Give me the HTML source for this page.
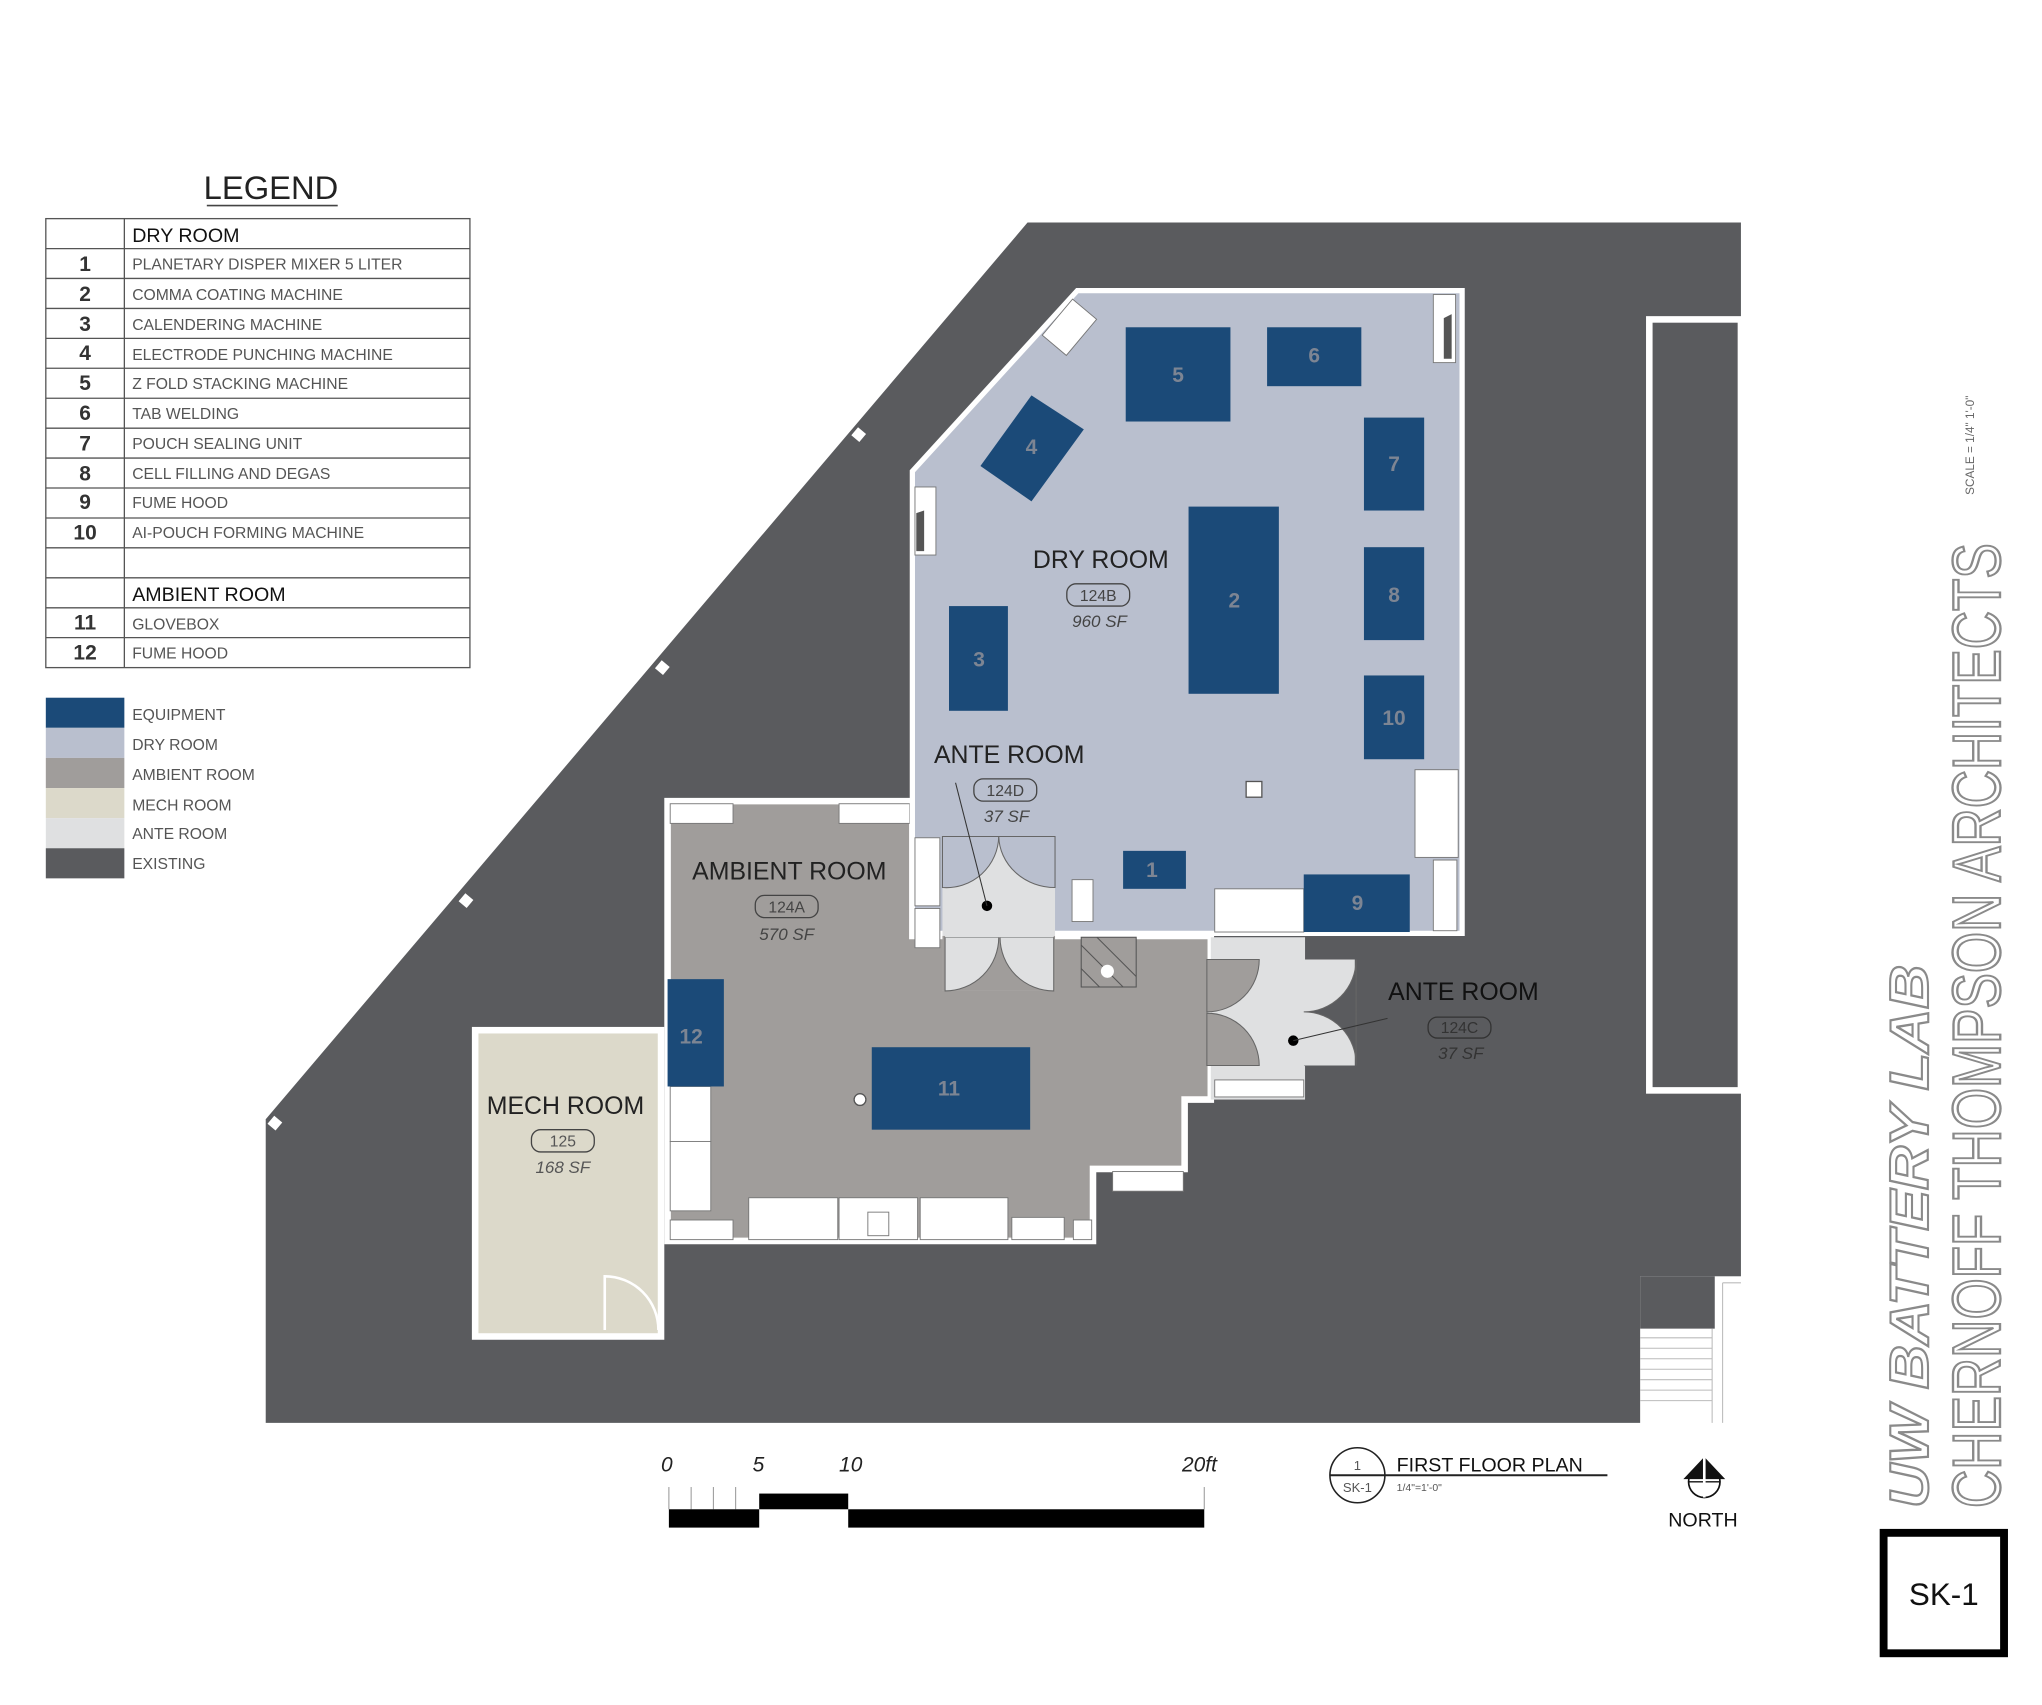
<!DOCTYPE html>
<html><head><meta charset="utf-8"><style>
html,body{margin:0;padding:0;background:#fff;}
svg{display:block;}
text{font-family:"Liberation Sans",sans-serif;}
</style></head><body>
<svg width="2042" height="1705" viewBox="0 0 1560 1302.5" xmlns="http://www.w3.org/2000/svg">
<rect x="0" y="0" width="1560" height="1302.5" fill="#fff"/>
<!-- LEGEND -->
<text x="207" y="152" font-size="25" text-anchor="middle" fill="#222">LEGEND</text>
<line x1="158" y1="157" x2="258" y2="157" stroke="#444" stroke-width="1.2"/>
<g stroke="#555" stroke-width="1" fill="none">
<rect x="35" y="167" width="324" height="343"/>
<line x1="95" y1="167" x2="95" y2="510"/>
<line x1="35" y1="189.9" x2="359" y2="189.9"/><line x1="35" y1="212.7" x2="359" y2="212.7"/>
<line x1="35" y1="235.6" x2="359" y2="235.6"/><line x1="35" y1="258.5" x2="359" y2="258.5"/>
<line x1="35" y1="281.3" x2="359" y2="281.3"/><line x1="35" y1="304.2" x2="359" y2="304.2"/>
<line x1="35" y1="327.1" x2="359" y2="327.1"/><line x1="35" y1="349.9" x2="359" y2="349.9"/>
<line x1="35" y1="372.8" x2="359" y2="372.8"/><line x1="35" y1="395.7" x2="359" y2="395.7"/>
<line x1="35" y1="418.5" x2="359" y2="418.5"/><line x1="35" y1="441.4" x2="359" y2="441.4"/>
<line x1="35" y1="464.3" x2="359" y2="464.3"/><line x1="35" y1="487.1" x2="359" y2="487.1"/>
</g>
<g font-size="15" fill="#111"><text x="101" y="185">DRY ROOM</text><text x="101" y="459">AMBIENT ROOM</text></g>
<g font-size="16" font-weight="bold" fill="#333" text-anchor="middle">
<text x="65" y="207">1</text><text x="65" y="230">2</text><text x="65" y="253">3</text><text x="65" y="275">4</text>
<text x="65" y="298">5</text><text x="65" y="321">6</text><text x="65" y="344">7</text><text x="65" y="367">8</text>
<text x="65" y="389">9</text><text x="65" y="412">10</text><text x="65" y="481">11</text><text x="65" y="504">12</text>
</g>
<g font-size="12" fill="#555">
<text x="101" y="206">PLANETARY DISPER MIXER 5 LITER</text><text x="101" y="229">COMMA COATING MACHINE</text>
<text x="101" y="252">CALENDERING MACHINE</text><text x="101" y="275">ELECTRODE PUNCHING MACHINE</text>
<text x="101" y="297">Z FOLD STACKING MACHINE</text><text x="101" y="320">TAB WELDING</text>
<text x="101" y="343">POUCH SEALING UNIT</text><text x="101" y="366">CELL FILLING AND DEGAS</text>
<text x="101" y="388">FUME HOOD</text><text x="101" y="411">AI-POUCH FORMING MACHINE</text>
<text x="101" y="481">GLOVEBOX</text><text x="101" y="503">FUME HOOD</text>
</g>
<rect x="35" y="533" width="60" height="23" fill="#1b4a78"/>
<rect x="35" y="556" width="60" height="23" fill="#b9bfce"/>
<rect x="35" y="579" width="60" height="23" fill="#a09d9b"/>
<rect x="35" y="602" width="60" height="23" fill="#dcd9ca"/>
<rect x="35" y="625" width="60" height="23" fill="#dfe0e1"/>
<rect x="35" y="648" width="60" height="23" fill="#5a5b5e"/>
<g font-size="12" fill="#555">
<text x="101" y="550">EQUIPMENT</text><text x="101" y="573">DRY ROOM</text><text x="101" y="596">AMBIENT ROOM</text>
<text x="101" y="619">MECH ROOM</text><text x="101" y="641">ANTE ROOM</text><text x="101" y="664">EXISTING</text>
</g>

<!-- EXISTING -->
<polygon points="203,855 785,170 1330,170 1330,1087 203,1087" fill="#5a5b5e"/>
<line x1="203" y1="848" x2="780" y2="170" stroke="#fff" stroke-width="3"/>
<g fill="#fff"><rect x="652" y="328" width="8" height="8" transform="rotate(40 656 332)"/>
<rect x="502" y="506" width="8" height="8" transform="rotate(40 506 510)"/>
<rect x="352" y="684" width="8" height="8" transform="rotate(40 356 688)"/>
<rect x="206" y="854" width="8" height="8" transform="rotate(40 210 858)"/></g>
<rect x="1260" y="244" width="70" height="589" fill="none" stroke="#fff" stroke-width="5"/>
<rect x="1253" y="975" width="80" height="115" fill="#fff"/>
<rect x="1253" y="975" width="57" height="40" fill="#5a5b5e"/>
<g stroke="#bbb" stroke-width="0.8"><line x1="1253" y1="1022" x2="1308" y2="1022"/><line x1="1253" y1="1030" x2="1308" y2="1030"/><line x1="1253" y1="1038" x2="1308" y2="1038"/><line x1="1253" y1="1046" x2="1308" y2="1046"/><line x1="1253" y1="1054" x2="1308" y2="1054"/><line x1="1253" y1="1062" x2="1308" y2="1062"/><line x1="1253" y1="1070" x2="1308" y2="1070"/><line x1="1308" y1="1015" x2="1308" y2="1087"/><line x1="1316" y1="980" x2="1316" y2="1087"/><line x1="1316" y1="980" x2="1330" y2="980"/></g>

<!-- MECH ROOM -->
<rect x="363" y="787" width="142" height="234" fill="#dcd9ca" stroke="#fff" stroke-width="5"/>
<path d="M462,1016 L462,975 A41,41 0 0 1 503,1016" fill="none" stroke="#fff" stroke-width="2"/>
<text x="432" y="851" font-size="19" text-anchor="middle" fill="#222">MECH ROOM</text>
<rect x="406" y="863" width="48" height="17" rx="7" fill="none" stroke="#444" stroke-width="1"/>
<text x="430" y="876" font-size="12" text-anchor="middle" fill="#555">125</text>
<text x="430" y="896" font-size="13" text-anchor="middle" fill="#555" font-style="italic">168 SF</text>

<!-- AMBIENT ROOM -->
<polygon points="510,612 697,612 697,715 925,715 925,840 905,840 905,893 835,893 835,948 510,948" fill="#a09d9b" stroke="#fff" stroke-width="5"/>
<g fill="#fff" stroke="#777" stroke-width="0.7">
<rect x="512" y="614" width="48" height="15"/><rect x="641" y="614" width="54" height="15"/>
<rect x="512" y="830" width="31" height="42"/><rect x="512" y="872" width="31" height="53"/>
<rect x="572" y="915" width="68" height="32"/><rect x="641" y="915" width="60" height="32"/>
<rect x="703" y="915" width="67" height="32"/><rect x="773" y="930" width="40" height="17"/>
<rect x="512" y="932" width="48" height="15"/><rect x="850" y="895" width="54" height="15"/>
<rect x="820" y="932" width="14" height="15"/><rect x="663" y="926" width="16" height="18"/>
</g>
<text x="603" y="672" font-size="19" text-anchor="middle" fill="#222">AMBIENT ROOM</text>
<rect x="577" y="684" width="48" height="17" rx="7" fill="none" stroke="#444" stroke-width="1"/>
<text x="601" y="697" font-size="12" text-anchor="middle" fill="#444">124A</text>
<text x="601" y="718" font-size="13" text-anchor="middle" fill="#444" font-style="italic">570 SF</text>
<circle cx="657" cy="840" r="4.5" fill="#fff" stroke="#555"/>
<rect x="826" y="716" width="42" height="38" fill="#a09d9b" stroke="#555" stroke-width="0.8"/>
<g stroke="#555" stroke-width="0.8"><line x1="826" y1="722" x2="858" y2="754"/><line x1="838" y1="716" x2="868" y2="746"/><line x1="826" y1="740" x2="840" y2="754"/></g>
<circle cx="846" cy="742" r="5" fill="#fff"/>

<!-- DRY ROOM -->
<polygon points="823,222 1117,222 1117,713 697,713 697,360" fill="#b9bfce" stroke="#fff" stroke-width="4"/>
<g fill="#fff" stroke="#777" stroke-width="0.7">
<rect x="1081" y="588" width="33" height="67"/><rect x="928" y="679" width="68" height="33"/>
<rect x="1095" y="657" width="18" height="54"/><rect x="1095" y="225" width="17" height="52"/>
<rect x="699" y="372" width="16" height="52"/>
<rect x="805" y="232" width="24" height="36" transform="rotate(40 817 250)"/>
<rect x="699" y="640" width="19" height="52"/><rect x="699" y="694" width="19" height="30"/>
<rect x="819" y="672" width="16" height="32"/>
</g>
<g fill="#555"><polygon points="1103,243 1109,240 1109,274 1103,274"/><polygon points="700,392 706,390 706,421 700,421"/></g>
<rect x="952" y="597" width="12" height="12" fill="#fff" stroke="#555"/>

<!-- Ante 124D -->
<rect x="720" y="639" width="86" height="118" fill="#dfe0e1"/>
<rect x="720" y="715" width="86" height="42" fill="#a09d9b"/>
<path d="M720,639 L720,678 A40,40 0 0 0 763,639 Z" fill="#b9bfce" stroke="#666" stroke-width="0.8"/>
<path d="M806,639 L763,639 A43,40 0 0 0 806,678 Z" fill="#b9bfce" stroke="#666" stroke-width="0.8"/>
<path d="M722,716 L763,716 A41,41 0 0 1 722,757 Z" fill="#dfe0e1" stroke="#666" stroke-width="0.8"/>
<path d="M805,716 L764,716 A41,41 0 0 0 805,757 Z" fill="#dfe0e1" stroke="#666" stroke-width="0.8"/>
<rect x="722" y="700" width="83" height="16" fill="#dfe0e1"/>
<circle cx="754" cy="692" r="4" fill="#000"/>
<line x1="754" y1="692" x2="730" y2="598" stroke="#333" stroke-width="0.8"/>

<!-- Ante 124C -->
<rect x="925" y="716" width="72" height="124" fill="#dfe0e1"/>
<rect x="925" y="733" width="110" height="81" fill="#dfe0e1"/>
<path d="M922,733 L962,733 A40,40 0 0 1 922,773 Z" fill="#a09d9b" stroke="#666" stroke-width="0.8"/>
<path d="M922,814 L962,814 A40,40 0 0 0 922,774 Z" fill="#a09d9b" stroke="#666" stroke-width="0.8"/>
<path d="M1036,733 L1036,814 L996,814 A40,40 0 0 0 1036,814 L1036,733 Z" fill="#5a5b5e"/>
<path d="M1036,733 A40,40 0 0 1 996,773 A40,40 0 0 1 1036,814 Z" fill="#5a5b5e" stroke="#666" stroke-width="0.8"/>
<rect x="928" y="825" width="68" height="13" fill="#fff" stroke="#777" stroke-width="0.7"/>
<circle cx="988" cy="795" r="4" fill="#000"/>
<line x1="988" y1="795" x2="1060" y2="778" stroke="#333" stroke-width="0.8"/>

<!-- EQUIPMENT -->
<g fill="#1b4a78">
<rect x="860" y="250" width="80" height="72"/><rect x="968" y="250" width="72" height="45"/>
<polygon points="788,302 828,328 788,383 749,356"/>
<rect x="1042" y="319" width="46" height="71"/><rect x="1042" y="418" width="46" height="71"/>
<rect x="1042" y="516" width="46" height="64"/><rect x="908" y="387" width="69" height="143"/>
<rect x="725" y="463" width="45" height="80"/><rect x="858" y="650" width="48" height="29"/>
<rect x="996" y="668" width="81" height="44"/><rect x="510" y="748" width="43" height="82"/>
<rect x="666" y="800" width="121" height="63"/>
</g>
<g font-size="16" font-weight="bold" fill="#7d8593" text-anchor="middle">
<text x="900" y="292">5</text><text x="1004" y="277">6</text><text x="788" y="347">4</text>
<text x="1065" y="360">7</text><text x="1065" y="460">8</text><text x="1065" y="554">10</text>
<text x="943" y="464">2</text><text x="748" y="509">3</text><text x="880" y="670">1</text>
<text x="1037" y="695">9</text><text x="528" y="797">12</text><text x="725" y="837">11</text>
</g>
<text x="841" y="434" font-size="19" text-anchor="middle" fill="#222">DRY ROOM</text>
<rect x="815" y="446" width="48" height="17" rx="7" fill="none" stroke="#444" stroke-width="1"/>
<text x="839" y="459" font-size="12" text-anchor="middle" fill="#444">124B</text>
<text x="840" y="479" font-size="13" text-anchor="middle" fill="#444" font-style="italic">960 SF</text>
<text x="771" y="583" font-size="19" text-anchor="middle" fill="#222">ANTE ROOM</text>
<rect x="744" y="595" width="48" height="17" rx="7" fill="none" stroke="#444" stroke-width="1"/>
<text x="768" y="608" font-size="12" text-anchor="middle" fill="#444">124D</text>
<text x="769" y="628" font-size="13" text-anchor="middle" fill="#444" font-style="italic">37 SF</text>
<text x="1118" y="764" font-size="19" text-anchor="middle" fill="#111">ANTE ROOM</text>
<rect x="1091" y="777" width="48" height="16" rx="7" fill="none" stroke="#333" stroke-width="1"/>
<text x="1115" y="789" font-size="12" text-anchor="middle" fill="#333">124C</text>
<text x="1116" y="809" font-size="13" text-anchor="middle" fill="#333" font-style="italic">37 SF</text>

<!-- SCALE BAR -->
<g font-size="16" fill="#222" font-style="italic"><text x="505" y="1124">0</text><text x="575" y="1124">5</text><text x="641" y="1124">10</text><text x="903" y="1124">20ft</text></g>
<g stroke="#999" stroke-width="0.8"><line x1="511" y1="1136" x2="511" y2="1153"/><line x1="528" y1="1136" x2="528" y2="1153"/><line x1="545" y1="1136" x2="545" y2="1153"/><line x1="562" y1="1136" x2="562" y2="1153"/><line x1="920" y1="1136" x2="920" y2="1153"/></g>
<rect x="511" y="1153" width="69" height="14" fill="#000"/>
<rect x="580" y="1141" width="68" height="12" fill="#000"/>
<rect x="648" y="1153" width="272" height="14" fill="#000"/>
<!-- title mark -->
<circle cx="1037" cy="1127" r="21" fill="none" stroke="#222" stroke-width="1.2"/>
<line x1="1016" y1="1127" x2="1228" y2="1127" stroke="#222" stroke-width="1.5"/>
<text x="1037" y="1123" font-size="10" text-anchor="middle" fill="#555">1</text>
<text x="1037" y="1140" font-size="10" text-anchor="middle" fill="#555">SK-1</text>
<text x="1067" y="1124" font-size="15" fill="#111">FIRST FLOOR PLAN</text>
<text x="1067" y="1139" font-size="8" fill="#555">1/4"=1'-0"</text>
<circle cx="1302" cy="1132" r="12" fill="none" stroke="#111" stroke-width="1.3"/>
<line x1="1290" y1="1132" x2="1314" y2="1132" stroke="#111"/>
<polygon points="1302,1113 1286,1130 1318,1130" fill="#111"/>
<line x1="1302" y1="1113" x2="1302" y2="1144" stroke="#fff" stroke-width="2"/>
<text x="1301" y="1166" font-size="15" text-anchor="middle" fill="#111">NORTH</text>

<!-- RIGHT TITLE BLOCK -->
<text transform="translate(1508,378) rotate(-90)" font-size="9" fill="#666">SCALE = 1/4" 1'-0"</text>
<text transform="translate(1473,1152) rotate(-90)" font-size="42" font-style="italic" font-weight="bold" fill="#fff" stroke="#8a8a8a" stroke-width="1.6" textLength="415" lengthAdjust="spacingAndGlyphs">UW BATTERY LAB</text>
<text transform="translate(1528,1152) rotate(-90)" font-size="52" fill="#fff" stroke="#8a8a8a" stroke-width="1.8" textLength="737" lengthAdjust="spacingAndGlyphs">CHERNOFF THOMPSON ARCHITECTS</text>
<rect x="1439" y="1171" width="92" height="92" fill="none" stroke="#000" stroke-width="6"/>
<text x="1485" y="1226" font-size="24" text-anchor="middle" fill="#111">SK-1</text>
</svg>
</body></html>
